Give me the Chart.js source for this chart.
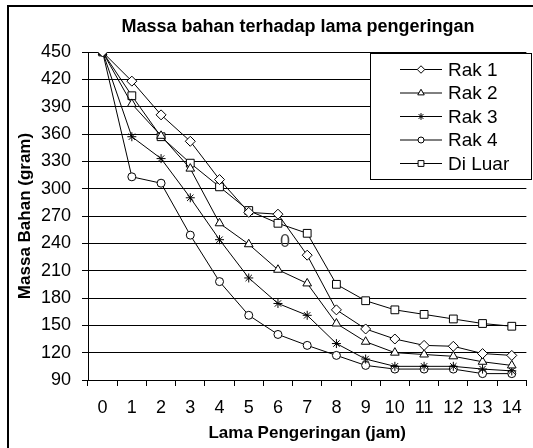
<!DOCTYPE html>
<html>
<head>
<meta charset="utf-8">
<script src="https://cdn.jsdelivr.net/npm/chart.js@4.4.0/dist/chart.umd.min.js"></script>
<style>
  html, body { margin: 0; padding: 0; background: #fff; }
</style>
</head>
<body>
<canvas id="massChart" width="533" height="448"></canvas>
<script>
const hours = ['0', '1', '2', '3', '4', '5', '6', '7', '8', '9', '10', '11', '12', '13', '14'];
const rak1 = [450, 418, 381, 352, 310, 274, 272, 227, 167, 146, 135, 128, 127, 119, 117];
const rak2 = [450, 393, 358, 322, 262, 239, 211, 196, 152, 132, 120, 118, 116, 110, 106];
const rak3 = [450, 357, 333, 290, 244, 202, 174, 161, 130, 113, 105, 105, 105, 102, 100];
const rak4 = [450, 313, 306, 249, 198, 161, 140, 128, 117, 106, 102, 102, 102, 97, 97];
const diLuar = [450, 402, 357, 328, 302, 276, 262, 251, 195, 177, 167, 162, 157, 152, 149];
const yMin = 90, yMax = 450, yStep = 30;

const FONT = "'Liberation Sans', Arial, sans-serif";

function series(label, data, style, radius) {
  return {
    label: label,
    data: data,
    borderColor: '#000',
    borderWidth: 1,
    pointStyle: style,
    pointRadius: radius,
    pointHoverRadius: radius,
    pointBackgroundColor: '#fff',
    pointBorderColor: '#000',
    pointBorderWidth: 1,
    tension: 0,
    fill: false
  };
}

// frame + main title
const framePlugin = {
  id: 'frame',
  beforeDraw(chart) {
    const ctx = chart.ctx;
    ctx.save();
    ctx.fillStyle = '#fff';
    ctx.fillRect(0, 0, chart.width, chart.height);
    ctx.strokeStyle = '#000';
    ctx.lineWidth = 2;
    ctx.strokeRect(8, 6, 700, 700);
    ctx.fillStyle = '#000';
    ctx.font = 'bold 18px ' + FONT;
    ctx.textAlign = 'center';
    ctx.textBaseline = 'middle';
    ctx.fillText('Massa bahan terhadap lama pengeringan', 298, 27);
    ctx.restore();
  }
};

// legend box drawn over the plot, like the original
const legendPlugin = {
  id: 'boxLegend',
  afterDatasetsDraw(chart) {
    const ctx = chart.ctx;
    const { x: sx, y: sy } = chart.scales;
    ctx.save();
    // stray "0" label seen in the original
    ctx.fillStyle = '#444';
    ctx.font = '18px ' + FONT;
    ctx.textAlign = 'center';
    ctx.textBaseline = 'middle';
    ctx.fillText('0', sx.getPixelForValue(6) + 7, sy.getPixelForValue(241));

    ctx.fillStyle = '#fff';
    ctx.fillRect(370.5, 53.5, 161, 126);
    ctx.strokeStyle = '#000';
    ctx.lineWidth = 1;
    ctx.strokeRect(370.5, 53.5, 161, 126);

    ctx.font = '19px ' + FONT;
    ctx.textAlign = 'left';
    chart.data.datasets.forEach((ds, i) => {
      const y = 69.5 + i * 23.5;
      ctx.strokeStyle = '#000';
      ctx.lineWidth = 1;
      ctx.beginPath();
      ctx.moveTo(400, y);
      ctx.lineTo(442, y);
      ctx.stroke();
      ctx.fillStyle = '#fff';
      Chart.helpers.drawPoint(ctx, {
        pointStyle: ds.pointStyle,
        radius: ds.pointRadius * 0.75,
        borderWidth: 1,
        rotation: 0
      }, 421, y);
      ctx.fillStyle = '#000';
      ctx.fillText(ds.label, 448, y + 1);
    });
    ctx.restore();
  }
};

new Chart(document.getElementById('massChart'), {
  type: 'line',
  data: {
    labels: hours,
    datasets: [
      series('Rak 1', rak1, 'rectRot', 5),
      series('Rak 2', rak2, 'triangle', 5),
      series('Rak 3', rak3, 'star', 4.5),
      series('Rak 4', rak4, 'circle', 4),
      series('Di Luar', diLuar, 'rect', 5.5)
    ]
  },
  options: {
    responsive: false,
    animation: false,
    devicePixelRatio: 1,
    layout: { padding: { top: 52, right: 1, bottom: 0, left: 0 } },
    plugins: {
      legend: { display: false },
      title: { display: false },
      tooltip: { enabled: false }
    },
    scales: {
      x: {
        type: 'category',
        offset: true,
        grid: {
          offset: true,
          drawOnChartArea: false,
          drawTicks: true,
          tickLength: 6,
          color: '#000'
        },
        border: { color: '#000', width: 1 },
        ticks: {
          color: '#000',
          font: { family: FONT, size: 18 },
          padding: 11,
          maxRotation: 0,
          autoSkip: false
        },
        title: {
          display: true,
          text: 'Lama Pengeringan (jam)',
          color: '#000',
          font: { family: FONT, size: 17, weight: 'bold' },
          padding: { top: 0, bottom: 4 }
        },
        afterFit(scale) { scale.height = 68; }
      },
      y: {
        min: yMin,
        max: yMax,
        ticks: {
          stepSize: yStep,
          color: '#000',
          font: { family: FONT, size: 18 },
          padding: 11
        },
        grid: {
          color: '#000',
          lineWidth: 1,
          drawTicks: true,
          tickLength: 6
        },
        border: { color: '#000', width: 1 },
        title: {
          display: true,
          text: 'Massa Bahan (gram)',
          color: '#000',
          font: { family: FONT, size: 17, weight: 'bold' },
          padding: { top: 15, bottom: 0 }
        },
        afterFit(scale) { scale.width = 88; }
      }
    }
  },
  plugins: [framePlugin, legendPlugin]
});
</script>
</body>
</html>
